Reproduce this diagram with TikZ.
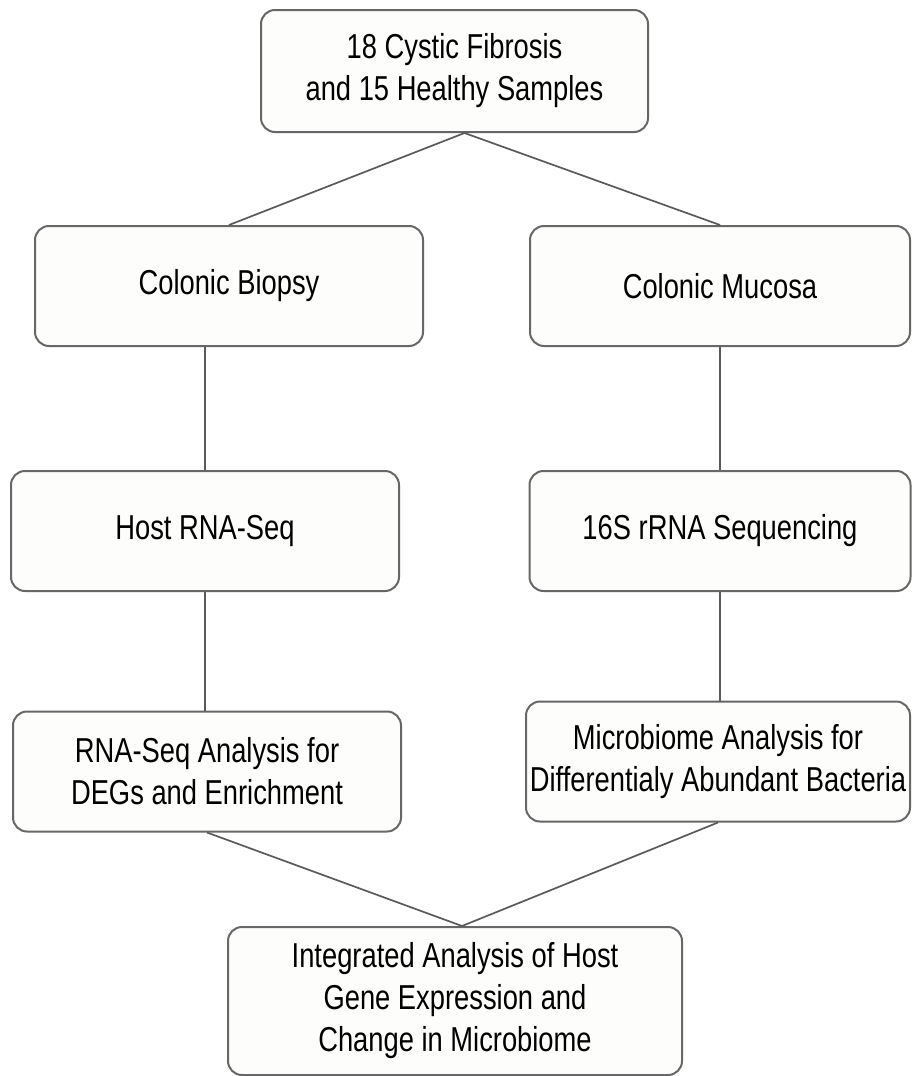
\documentclass[tikz,border=0pt]{standalone}
\usepackage{fontspec}
\setmainfont{Liberation Sans}[FakeStretch=0.79]
\usetikzlibrary{positioning}
\definecolor{cline}{HTML}{5A5A5A}
\definecolor{cedge}{HTML}{676767}
\definecolor{cfill}{HTML}{FDFDFB}
\tikzset{
  every picture/.style={line width=1pt},
  stage/.style={draw=cedge, fill=cfill, rounded corners=7pt, align=center, inner sep=0pt, minimum width=#1, minimum height=60pt, font=\fontsize{17.3}{21}\selectfont},
  stage/.default=194pt,
  link/.style={draw=cline, line width=0.85pt},
}

\begin{document}
\begin{tikzpicture}[x=0.5pt, y=-0.5pt]
  \fill[white] (0,0) rectangle (912,1076);
  \useasboundingbox (0,0) rectangle (912,1076);
  % samples and the two tissue branches
  \node[stage=193.5pt, minimum height=61pt] (samples) at (454.5,71) {18 Cystic Fibrosis\\and 15 Healthy Samples};
  \node[stage=194pt] (biopsy) at (229,286) {Colonic Biopsy};
  \node[stage=190pt] (mucosa) at (720,286) {Colonic Mucosa};
  \node[stage=194pt] (host) at (205,531) {Host RNA-Seq};
  \node[stage=190.5pt] (seq16) at (720,531) {16S rRNA Sequencing};
  \node[stage=194pt] (rnaan) at (207,771.5) {RNA-Seq Analysis for\\DEGs and Enrichment};
  \node[stage=192pt] (micro) at (718,761.5) {Microbiome Analysis for\\Differentialy Abundant Bacteria};
  \node[stage=227pt, minimum height=74pt] (integ) at (455,1001) {Integrated Analysis of Host\\Gene Expression and\\Change in Microbiome};
  % connectors
  \draw[link] ([xshift=5pt]samples.south) -- (biopsy.north);
  \draw[link] ([xshift=5pt]samples.south) -- (mucosa.north);
  \draw[link] (biopsy.south -| host.north) -- (host.north);
  \draw[link] (mucosa.south) -- (seq16.north);
  \draw[link] (host.south) -- (host.south |- rnaan.north);
  \draw[link] (seq16.south) -- (seq16.south |- micro.north);
  \draw[link] (rnaan.south) -- ([xshift=3.5pt]integ.north);
  \draw[link] (micro.south) -- ([xshift=3.5pt]integ.north);
\end{tikzpicture}
\end{document}
